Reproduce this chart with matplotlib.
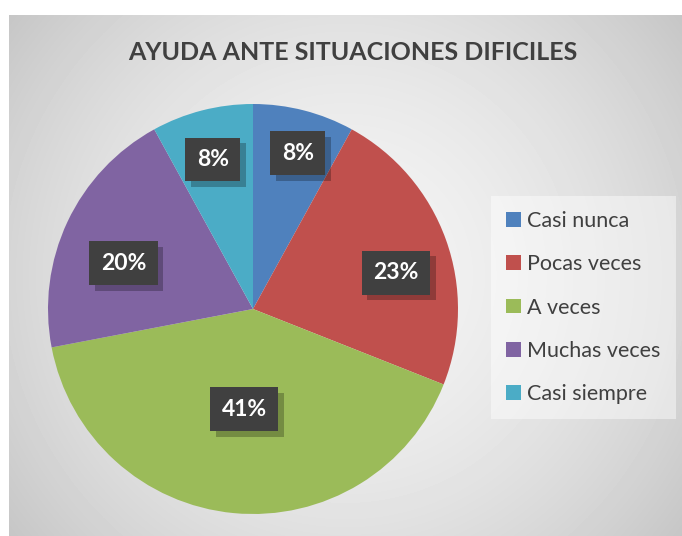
import matplotlib.pyplot as plt
import numpy as np
from matplotlib import patheffects
from matplotlib.patches import Patch

# --- DATA ---
categories = ['Casi nunca', 'Pocas veces', 'A veces', 'Muchas veces', 'Casi siempre']
percentages = [8, 23, 41, 20, 8]
colors = ['#4F81BD', '#C0504D', '#9BBB59', '#8064A2', '#4BACC6']
title = 'AYUDA ANTE SITUACIONES DIFICILES'
# ------------

# label placement, Excel "best fit" look: radius fraction and angle nudge (deg, clockwise)
label_radius = [0.79, 0.72, 0.49, 0.67, 0.755]
label_nudge = [1.7, 5.5, -0.3, -5.8, -0.6]

plt.rcParams['font.family'] = ['Lato', 'DejaVu Sans']
W, H = 682, 536
fig = plt.figure(figsize=(W / 100, H / 100), dpi=100)

# grey radial gradient chart area
bg = fig.add_axes([0, 0, 1, 1], zorder=0)
yy, xx = np.mgrid[15:H, 9:W]
d = np.hypot(xx - 345, yy - 275) / 425
shade = (244 - 46 * d ** 1.7) / 255
bg.imshow(shade, cmap='gray', vmin=0, vmax=1, extent=(9, W, H, 15),
          interpolation='bilinear', aspect='auto')
bg.set_xlim(0, W)
bg.set_ylim(H, 0)
bg.axis('off')

# pie
ax = fig.add_axes([48 / W, 1 - 514 / H, 410 / W, 410 / H], zorder=1)
wedges, _ = ax.pie(percentages, colors=colors, startangle=90, counterclock=False)
ax.set_xlim(-1, 1)
ax.set_ylim(-1, 1)
ax.patch.set_visible(False)

for w, p, rf, nd in zip(wedges, percentages, label_radius, label_nudge):
    ang = np.deg2rad((w.theta1 + w.theta2) / 2 - nd)
    t = ax.text(rf * np.cos(ang), rf * np.sin(ang), f'{p}%', ha='center', va='center',
                fontsize=16.5, fontweight='bold', color='white',
                bbox=dict(boxstyle='square,pad=0.5', facecolor='#404040', linewidth=0))
    t.get_bbox_patch().set_path_effects([
        patheffects.SimplePatchShadow(offset=(4, -4), shadow_rgbFace='black', alpha=0.25),
        patheffects.Normal()])

# legend
handles = [Patch(facecolor=c) for c in colors]
leg = fig.legend(handles, categories, loc='upper left', bbox_to_anchor=(491 / W, 1 - 196 / H),
                 frameon=True, facecolor='white', framealpha=0.45, edgecolor='none',
                 fancybox=False, fontsize=15.5, labelcolor='#404040',
                 handlelength=0.68, handleheight=0.68, handletextpad=0.3,
                 labelspacing=1.08, borderpad=0.7, borderaxespad=0)

fig.text(353 / W, 1 - 52 / H, title, ha='center', va='center',
         fontsize=18, fontweight='bold', color='#404040')

fig.savefig('out.png', dpi=100)
